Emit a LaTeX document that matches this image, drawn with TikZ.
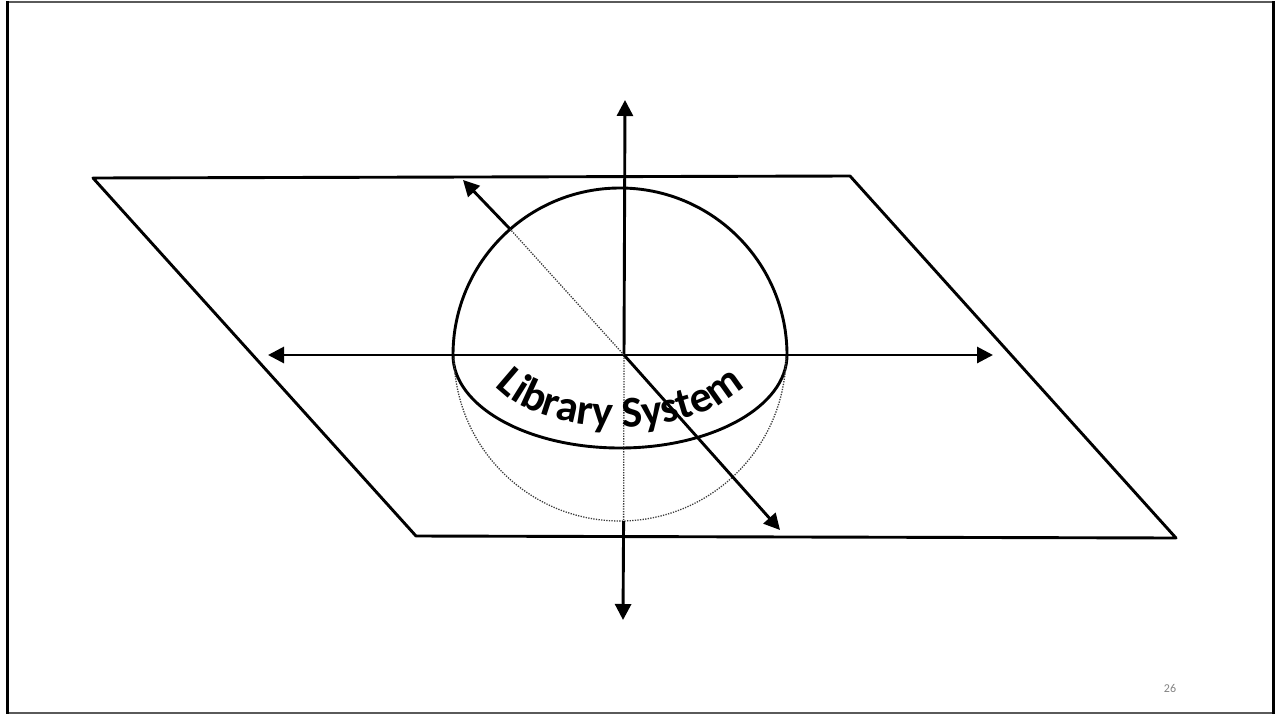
\documentclass[tikz,border=0pt]{standalone}
\usepackage{fontspec}
\setmainfont{Carlito}
\usetikzlibrary{arrows.meta, calc, decorations.text}
\definecolor{trait}{RGB}{0,0,0}
\definecolor{gris}{RGB}{60,60,60}
\definecolor{cadre}{RGB}{90,90,90}
\definecolor{numero}{RGB}{130,130,130}

\begin{document}
\begin{tikzpicture}[x=1pt, y=1pt,
    axe/.style={trait, line width=2.9pt, -{Triangle[length=16pt,width=16pt]}},
    contour/.style={trait, line width=2.9pt, line join=round},
    cache/.style={gris, line width=1.3pt, dash pattern=on 1.3pt off 1.3pt}]
  \useasboundingbox (0,0) rectangle (1276,-715);
  % cadre de la diapositive
  \draw[cadre, line width=2pt] (7,-2) -- (1274,-2);
  \draw[cadre, line width=2pt] (7,-713) -- (1274,-713);
  \draw[trait, line width=3pt] (7.5,-1) -- (7.5,-714);
  \draw[trait, line width=2.5pt] (1273.5,-1) -- (1273.5,-714);
  % plan
  \draw[contour] (93,-178) -- (850,-176) -- (1176,-538) -- (416,-536) -- cycle;
  % points utiles
  \coordinate (O) at (624,-355);
  \coordinate (C) at (620,-355);
  \coordinate (haut) at (625,-100);
  \coordinate (bas) at (623,-620);
  \coordinate (sud) at (623.6,-521);
  \coordinate (gauche) at (268,-355);
  \coordinate (droite) at (993,-355);
  \coordinate (nordouest) at (463,-180);
  \coordinate (bord) at (510,-229);
  \coordinate (sudest) at (780,-530);
  % sphere : partie visible puis partie cachee
  \draw[contour] ($(C)+(167,0)$) arc[start angle=0, end angle=180, radius=167];
  \draw[contour] ($(C)+(-167,0)$) arc[start angle=180, end angle=360, x radius=167, y radius=93];
  \draw[cache] ($(C)+(-166,0)$) arc[start angle=180, end angle=360, radius=166];
  % axes
  \draw[axe] (O) -- (haut);
  \draw[cache] (O) -- (sud);
  \draw[axe] (sud) -- (bas);
  \draw[axe] (O) -- (gauche);
  \draw[axe] (O) -- (droite);
  \draw[cache] (O) -- (bord);
  \draw[axe] (bord) -- (nordouest);
  \draw[axe] (O) -- (sudest);
  % texte courbe
  \path[decorate, decoration={text along path, text align=center,
      text={|\fontsize{44}{44}\selectfont\bfseries|Library System}}]
    ($(C)+(185:138 and 72)$) arc[start angle=185, end angle=355, x radius=138, y radius=72];
  % numero de page
  \node[numero, font=\fontsize{12}{12}\selectfont] (page) at (1170,-688) {26};
\end{tikzpicture}
\end{document}
